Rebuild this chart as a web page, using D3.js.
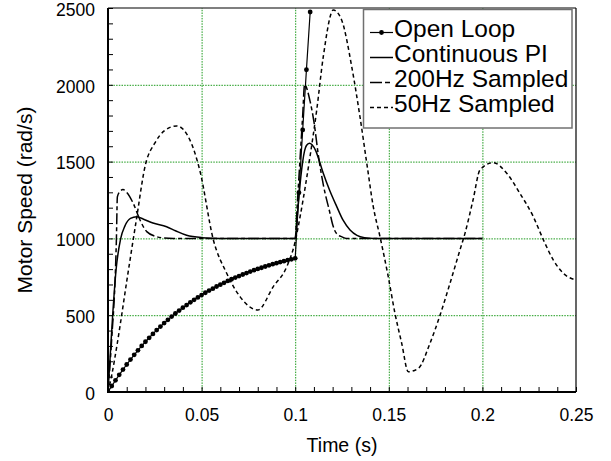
<!DOCTYPE html>
<html>
<head>
<meta charset="utf-8">
<script src="https://cdn.jsdelivr.net/npm/d3@7"></script>
<style>
  body { margin: 0; background: #fff; }
  svg { display: block; font-family: "Liberation Sans", Arial, Helvetica, sans-serif; }
</style>
</head>
<body>
<svg id="chart" width="611" height="461"></svg>
<script>
// tick labels
const xTicks = [0, 0.05, 0.1, 0.15, 0.2, 0.25];
const xTickLabels = ["0", "0.05", "0.1", "0.15", "0.2", "0.25"];
const yTicks = [0, 500, 1000, 1500, 2000, 2500];
const yTickLabels = ["0", "500", "1000", "1500", "2000", "2500"];

// series names (legend order)
const seriesNames = ["Open Loop", "Continuous PI", "200Hz Sampled", "50Hz Sampled"];

// Open Loop (sampled every 2 ms)
const openLoopT = [0, 0.002, 0.004, 0.006, 0.008, 0.01, 0.012, 0.014, 0.016, 0.018,
  0.02, 0.022, 0.024, 0.026, 0.028, 0.03, 0.032, 0.034, 0.036, 0.038,
  0.04, 0.042, 0.044, 0.046, 0.048, 0.05, 0.052, 0.054, 0.056, 0.058,
  0.06, 0.062, 0.064, 0.066, 0.068, 0.07, 0.072, 0.074, 0.076, 0.078,
  0.08, 0.082, 0.084, 0.086, 0.088, 0.09, 0.092, 0.094, 0.096, 0.098,
  0.1, 0.102, 0.104, 0.106, 0.108];
const openLoopV = [0, 39, 76, 112, 146, 179, 211, 242, 271, 300,
  327, 353, 378, 403, 426, 449, 470, 491, 511, 530,
  549, 566, 584, 600, 616, 631, 646, 660, 673, 687,
  699, 711, 723, 734, 745, 755, 765, 774, 784, 793,
  801, 809, 817, 825, 832, 839, 846, 852, 858, 864,
  870, 1298, 1706, 2098, 2474];

// Continuous PI
const piT = [0, 0.001, 0.0025, 0.0043, 0.0068, 0.009, 0.012, 0.0153, 0.019, 0.024,
  0.0313, 0.036, 0.042, 0.05, 0.06, 0.1,
  0.101, 0.102, 0.103, 0.104, 0.105, 0.106, 0.1076, 0.109, 0.111, 0.113,
  0.115, 0.1185, 0.1222, 0.1255, 0.1293, 0.133, 0.137, 0.142, 0.15, 0.2];
const piV = [0, 200, 500, 794, 1000, 1080, 1130, 1141, 1125, 1100,
  1076, 1050, 1020, 1005, 1000, 1000,
  1130, 1270, 1400, 1500, 1570, 1605, 1620, 1610, 1570, 1500,
  1424, 1310, 1207, 1120, 1055, 1020, 1005, 1000, 1000, 1000];

// 200Hz Sampled
const s200T = [0, 0.002, 0.004, 0.0045, 0.005, 0.006, 0.008, 0.01, 0.0135, 0.0171,
  0.0207, 0.026, 0.03, 0.035, 0.1,
  0.101, 0.102, 0.103, 0.104, 0.105,
  0.108, 0.11, 0.1125, 0.115, 0.1186, 0.12, 0.122, 0.125, 0.1275, 0.2];
const s200V = [0, 350, 800, 1000, 1270, 1300, 1318, 1300, 1228, 1120,
  1044, 1011, 1003, 1000, 1000,
  1200, 1400, 1600, 1800, 2000,
  1890, 1760, 1530, 1350, 1163, 1090, 1033, 1010, 1000, 1000];

// 50Hz Sampled
const s50T = [0, 0.002, 0.005, 0.01, 0.015, 0.02, 0.025, 0.03, 0.0367, 0.0438,
  0.049, 0.0563, 0.0634, 0.0705, 0.08, 0.0883, 0.0955, 0.1, 0.1026, 0.1079,
  0.1115, 0.115, 0.1204, 0.1248, 0.1302, 0.1346, 0.1385, 0.1417, 0.1453, 0.1497,
  0.1533, 0.1569, 0.1604, 0.1658, 0.172, 0.1774, 0.1827, 0.188, 0.1907, 0.195,
  0.1987, 0.2058, 0.213, 0.22, 0.2272, 0.2326, 0.2379, 0.2432, 0.25];
const s50V = [0, 110, 320, 720, 1110, 1480, 1620, 1700, 1732, 1640,
  1445, 990, 773, 621, 534, 686, 816, 980, 1141, 1532,
  1836, 2183, 2487, 2422, 2118, 1792, 1467, 1207, 1011, 751,
  512, 317, 132, 154, 317, 501, 708, 924, 1033, 1250,
  1445, 1493, 1424, 1294, 1141, 990, 859, 773, 729];

const zip = (ts, vs) => ts.map((t, i) => ({t: t, v: vs[i]}));

const svg = d3.select("#chart");
const margin = {top: 8, right: 35, bottom: 69, left: 108};
const width = 611 - margin.left - margin.right;
const height = 461 - margin.top - margin.bottom;

const x = d3.scaleLinear().domain([0, 0.25]).range([margin.left, margin.left + width]);
const y = d3.scaleLinear().domain([0, 2500]).range([margin.top + height, margin.top]);

svg.append("defs").append("clipPath").attr("id", "plot-clip")
  .append("rect")
    .attr("x", margin.left).attr("y", margin.top - 1)
    .attr("width", width).attr("height", height + 1);

// grid
const grid = svg.append("g").attr("class", "grid")
  .attr("stroke", "#1c9a1c").attr("stroke-width", 1).attr("stroke-dasharray", "1.5,1.2");
grid.selectAll(".gx").data(xTicks.slice(1, -1)).enter().append("line")
  .attr("x1", d => x(d) + 0.5).attr("x2", d => x(d) + 0.5)
  .attr("y1", y(0)).attr("y2", y(2500));
grid.selectAll(".gy").data(yTicks.slice(1, -1)).enter().append("line")
  .attr("y1", d => y(d) + 0.5).attr("y2", d => y(d) + 0.5)
  .attr("x1", x(0)).attr("x2", x(0.25));

// minor ticks (inside)
const xAxisMinor = d3.axisBottom(x).tickValues(d3.range(0, 26).map(i => i / 100))
  .tickSize(-5).tickFormat("");
const yAxisMinor = d3.axisLeft(y).tickValues(d3.range(0, 26).map(i => i * 100))
  .tickSize(-5).tickFormat("");
svg.append("g").attr("transform", `translate(0, ${y(0)})`).call(xAxisMinor)
  .call(g => g.select(".domain").remove())
  .selectAll("line").attr("stroke", "#000").attr("stroke-width", 1);
svg.append("g").attr("transform", `translate(${x(0)}, 0)`).call(yAxisMinor)
  .call(g => g.select(".domain").remove())
  .selectAll("line").attr("stroke", "#000").attr("stroke-width", 1);

// tick labels
const xAxis = d3.axisBottom(x).tickValues(xTicks).tickSize(0).tickPadding(17)
  .tickFormat((d, i) => xTickLabels[i]);
const yAxis = d3.axisLeft(y).tickValues(yTicks).tickSize(0).tickPadding(13)
  .tickFormat((d, i) => yTickLabels[i]);
svg.append("g").attr("transform", `translate(0, ${y(0)})`).call(xAxis)
  .call(g => g.select(".domain").remove())
  .selectAll("text").attr("font-size", 17.5).attr("fill", "#000")
  .attr("font-family", "'Liberation Sans', Arial, sans-serif");
svg.append("g").attr("transform", `translate(${x(0)}, 0)`).call(yAxis)
  .call(g => g.select(".domain").remove())
  .selectAll("text").attr("font-size", 17.5).attr("fill", "#000")
  .attr("dy", "0.42em")
  .attr("font-family", "'Liberation Sans', Arial, sans-serif");

// frame
svg.append("line").attr("x1", x(0)).attr("x2", x(0.25)).attr("y1", y(2500)).attr("y2", y(2500))
  .attr("stroke", "#000").attr("stroke-width", 1.2);
svg.append("line").attr("x1", x(0.25)).attr("x2", x(0.25)).attr("y1", y(2500)).attr("y2", y(0))
  .attr("stroke", "#000").attr("stroke-width", 1.2);
svg.append("line").attr("x1", x(0)).attr("x2", x(0.25)).attr("y1", y(0)).attr("y2", y(0))
  .attr("stroke", "#000").attr("stroke-width", 2);
svg.append("line").attr("x1", x(0)).attr("x2", x(0)).attr("y1", y(2500)).attr("y2", y(0) + 1)
  .attr("stroke", "#000").attr("stroke-width", 2);

// axis titles
svg.append("text").attr("x", x(0.125)).attr("y", 452).attr("text-anchor", "middle")
  .attr("font-size", 19.5).attr("fill", "#000").text("Time (s)");
svg.append("text").attr("transform", `translate(32, ${y(1250)}) rotate(-90)`)
  .attr("text-anchor", "middle").attr("font-size", 21).attr("fill", "#000")
  .text("Motor Speed (rad/s)");

// curves
const plot = svg.append("g").attr("clip-path", "url(#plot-clip)");
const smooth = d3.line().x(d => x(d.t)).y(d => y(d.v)).curve(d3.curveMonotoneX);
const straight = d3.line().x(d => x(d.t)).y(d => y(d.v));

const styles = [
  {dash: null, width: 1.2},
  {dash: null, width: 1.5},
  {dash: "11,3,4,3", width: 1.5},
  {dash: "4,3", width: 1.5}
];

plot.append("path").datum(zip(s50T, s50V))
  .attr("d", smooth).attr("fill", "none").attr("stroke", "#000")
  .attr("stroke-width", styles[3].width).attr("stroke-dasharray", styles[3].dash);
plot.append("path").datum(zip(s200T, s200V))
  .attr("d", smooth).attr("fill", "none").attr("stroke", "#000")
  .attr("stroke-width", styles[2].width).attr("stroke-dasharray", styles[2].dash);
plot.append("path").datum(zip(piT, piV))
  .attr("d", smooth).attr("fill", "none").attr("stroke", "#000")
  .attr("stroke-width", styles[1].width);
plot.append("path").datum(zip(openLoopT, openLoopV))
  .attr("d", straight).attr("fill", "none").attr("stroke", "#000")
  .attr("stroke-width", styles[0].width);
plot.selectAll(".ol-dot").data(zip(openLoopT, openLoopV)).enter().append("circle")
  .attr("class", "ol-dot")
  .attr("cx", d => x(d.t)).attr("cy", d => y(d.v)).attr("r", 2.4).attr("fill", "#000");

// legend
const legend = svg.append("g").attr("class", "legend");
legend.append("rect").attr("x", 363.5).attr("y", 9.5).attr("width", 208.5).attr("height", 118.5)
  .attr("fill", "#fff").attr("stroke", "#707070").attr("stroke-width", 1.5);
seriesNames.forEach((name, i) => {
  const ly = 32.5 + i * 25;
  const row = legend.append("g");
  row.append("line").attr("x1", 370).attr("x2", 393).attr("y1", ly).attr("y2", ly)
    .attr("stroke", "#000").attr("stroke-width", styles[i].width)
    .attr("stroke-dasharray", i === 2 ? "12,3,5,3" : styles[i].dash);
  if (i === 0) {
    row.append("circle").attr("cx", 381.5).attr("cy", ly).attr("r", 2.4).attr("fill", "#000");
  }
  row.append("text").attr("x", 394).attr("y", ly + 4).attr("font-size", 24.5)
    .attr("fill", "#000").text(name);
});
</script>
</body>
</html>
